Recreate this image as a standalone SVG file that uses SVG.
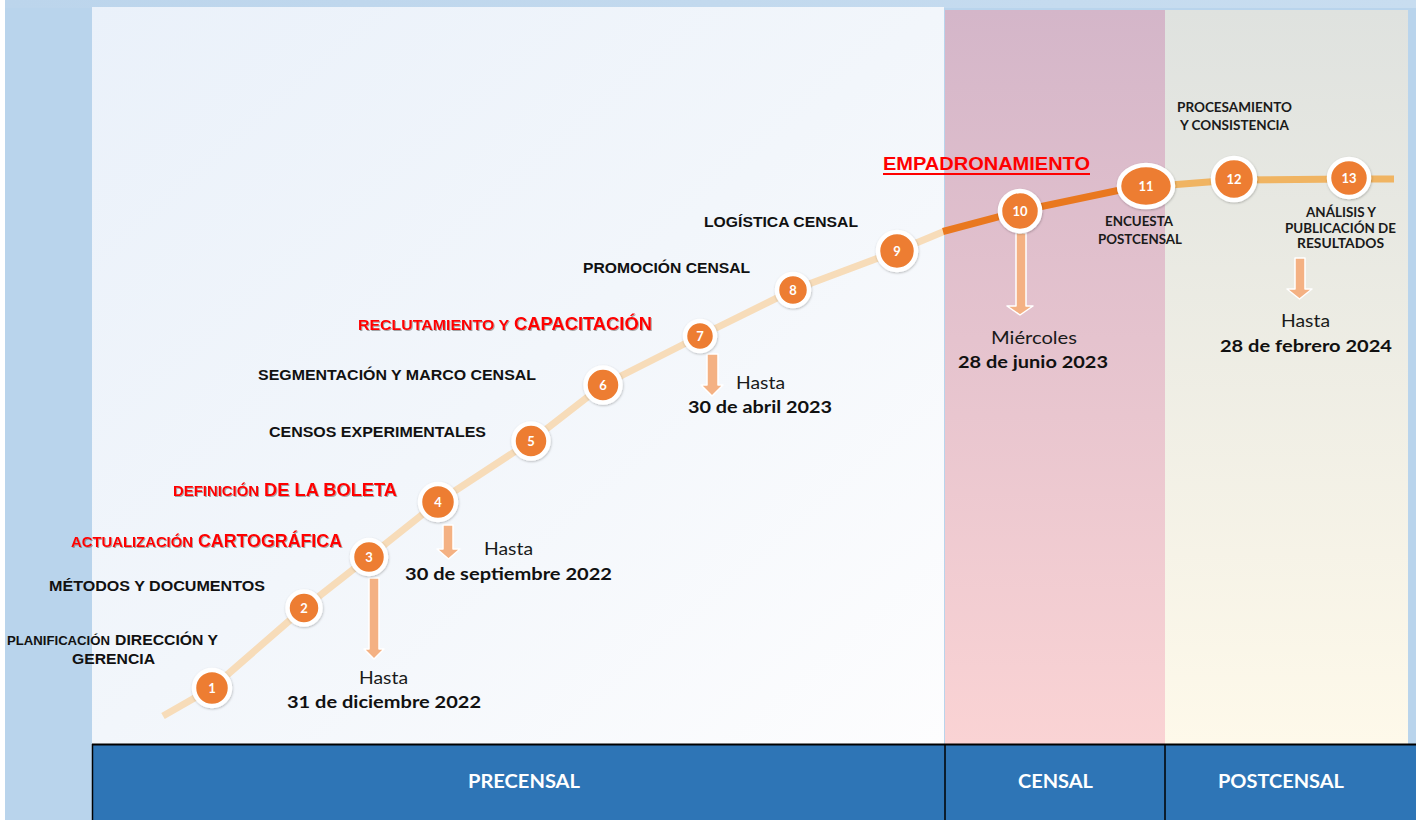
<svg xmlns="http://www.w3.org/2000/svg" width="1416" height="820" viewBox="0 0 1416 820">
<defs>
<linearGradient id="gPre" x1="0" y1="0" x2="1" y2="1">
<stop offset="0" stop-color="#eaf1fa"/><stop offset="0.5" stop-color="#f2f6fb"/><stop offset="1" stop-color="#fdfdfe"/>
</linearGradient>
<linearGradient id="gCen" x1="0" y1="0" x2="0" y2="1">
<stop offset="0" stop-color="#d4b6c9"/><stop offset="1" stop-color="#fad3d4"/>
</linearGradient>
<linearGradient id="gPost" x1="0" y1="0" x2="0" y2="1">
<stop offset="0" stop-color="#dfe2df"/><stop offset="1" stop-color="#fef9ea"/>
</linearGradient>
<linearGradient id="gTop" x1="0" y1="0" x2="1" y2="0">
<stop offset="0" stop-color="#bcd5ec"/><stop offset="1" stop-color="#c8ddf0"/>
</linearGradient>
<filter id="sh" x="-30%" y="-30%" width="160%" height="160%">
<feDropShadow dx="0.5" dy="1" stdDeviation="1.2" flood-color="#000" flood-opacity="0.25"/>
</filter>
<filter id="tsh" x="-5%" y="-30%" width="110%" height="160%">
<feDropShadow dx="1" dy="1" stdDeviation="0.6" flood-color="#555" flood-opacity="0.5"/>
</filter>
</defs>
<style>
.red{font-family:"Liberation Sans",Arial,sans-serif;font-weight:bold;fill:#ff0000;filter:url(#tsh)}
.blk{font-family:"Liberation Sans",Arial,sans-serif;font-weight:bold;fill:#111;font-size:14.5px}
.cal{font-family:Lato,"Open Sans",sans-serif;font-weight:bold;fill:#1a1a1a;font-size:12.5px}
.date{font-family:Lato,"Open Sans",sans-serif;fill:#1a1a1a;font-size:17px}
.dateb{font-family:Lato,"Open Sans",sans-serif;font-weight:bold;fill:#111;font-size:17.5px}
.bar{font-family:Lato,"Open Sans",sans-serif;font-weight:bold;fill:#fff;font-size:19px}
.num{font-family:Lato,"Open Sans",sans-serif;font-weight:bold;fill:#fff;font-size:13px;text-anchor:middle}
.dot{fill:#ed7d31;stroke:#fff;stroke-width:4.5;filter:url(#sh)}
.arr{fill:#f4b183;stroke:#fff;stroke-width:1.5}
</style>

<!-- background -->
<rect x="0" y="0" width="1416" height="820" fill="#fff"/>
<rect x="5" y="0" width="1411" height="820" fill="#b9d4ec"/>
<rect x="5" y="0" width="1411" height="8" fill="url(#gTop)"/>
<rect x="92" y="7" width="852" height="737" fill="url(#gPre)"/>
<rect x="945" y="10" width="220" height="734" fill="url(#gCen)"/>
<rect x="1165" y="10" width="243" height="734" fill="url(#gPost)"/>

<!-- bottom bar -->
<g id="phase-bar">
<rect x="92" y="745" width="1324" height="75" fill="#2e75b6"/>
<line x1="92" y1="744.5" x2="1416" y2="744.5" stroke="#000" stroke-width="2"/>
<line x1="92.5" y1="744" x2="92.5" y2="820" stroke="#000" stroke-width="1.5"/>
<line x1="945" y1="744" x2="945" y2="820" stroke="#000" stroke-width="1.5"/>
<line x1="1165" y1="744" x2="1165" y2="820" stroke="#000" stroke-width="1.5"/>
<text class="bar" x="468" y="788" textLength="112" lengthAdjust="spacingAndGlyphs">PRECENSAL</text>
<text class="bar" x="1018" y="788" textLength="75" lengthAdjust="spacingAndGlyphs">CENSAL</text>
<text class="bar" x="1218" y="788" textLength="126" lengthAdjust="spacingAndGlyphs">POSTCENSAL</text>
</g>

<!-- connectors -->
<g id="connectors" fill="none" stroke-linecap="butt" stroke-linejoin="round" stroke-width="7">
<path d="M163,716 L212,688 L304,608 L369,557 L438,502 L531,441 L603,385 L700,336 L793,290 L897,251 L945,231" stroke="#f7dcb9"/>
<path d="M943,231.5 L1020,211 L1125,189" stroke="#e9781f"/>
<path d="M1170,185 L1234,180 L1349,179 L1394,179" stroke="#f0b462"/>
<path class="arr" d="M369,578 h10 v71 h5 l-10,10 l-10,-10 h5 z"/>
<path class="arr" d="M443,525 h10 v24 h7 l-11.5,10 l-11.5,-10 h6 z"/>
<path class="arr" d="M707,354 h11 v31 h5 l-11,11 l-11,-11 h6 z"/>
<path class="arr" d="M1016,233 h10 v73 h7 l-13,9 l-13,-9 h9 z"/>
<path class="arr" d="M1295,258 h10 v31 h7 l-12.5,10 l-12.5,-10 h8 z"/>
</g>

<!-- nodes -->
<g id="n1"><circle class="dot" cx="212" cy="688" r="18"/><text class="num" x="212" y="692.5">1</text>
<text class="blk" x="7" y="645" textLength="103" lengthAdjust="spacingAndGlyphs" style="font-size:13px">PLANIFICACIÓN</text>
<text class="blk" x="115" y="645" textLength="103" lengthAdjust="spacingAndGlyphs">DIRECCIÓN Y</text>
<text class="blk" x="72" y="664" textLength="83" lengthAdjust="spacingAndGlyphs">GERENCIA</text></g>
<g id="n2"><circle class="dot" cx="304" cy="608" r="16.5"/><text class="num" x="304" y="612.5">2</text>
<text class="blk" x="49" y="591" textLength="216" lengthAdjust="spacingAndGlyphs">MÉTODOS Y DOCUMENTOS</text></g>
<g id="n3"><circle class="dot" cx="369" cy="557" r="17"/><text class="num" x="369" y="561.5">3</text>
<text class="red" x="71" y="547" style="font-size:15px" textLength="122" lengthAdjust="spacingAndGlyphs">ACTUALIZACIÓN</text>
<text class="red" x="198" y="547" style="font-size:18px" textLength="144" lengthAdjust="spacingAndGlyphs">CARTOGRÁFICA</text>
<text class="date" x="359" y="684" textLength="49" lengthAdjust="spacingAndGlyphs">Hasta</text>
<text class="dateb" x="287" y="708" textLength="194" lengthAdjust="spacingAndGlyphs">31 de diciembre 2022</text></g>
<g id="n4"><circle class="dot" cx="438" cy="502" r="18"/><text class="num" x="438" y="506.5">4</text>
<text class="red" x="173" y="496" style="font-size:15px" textLength="86" lengthAdjust="spacingAndGlyphs">DEFINICIÓN</text>
<text class="red" x="264" y="496" style="font-size:18px" textLength="133" lengthAdjust="spacingAndGlyphs">DE LA BOLETA</text>
<text class="date" x="484" y="555" textLength="49" lengthAdjust="spacingAndGlyphs">Hasta</text>
<text class="dateb" x="405" y="580" textLength="207" lengthAdjust="spacingAndGlyphs">30 de septiembre 2022</text></g>
<g id="n5"><circle class="dot" cx="531" cy="441" r="17.5"/><text class="num" x="531" y="445.5">5</text>
<text class="blk" x="269" y="437" textLength="217" lengthAdjust="spacingAndGlyphs">CENSOS EXPERIMENTALES</text></g>
<g id="n6"><circle class="dot" cx="603" cy="385" r="17.5"/><text class="num" x="603" y="389.5">6</text>
<text class="blk" x="258" y="380" textLength="278" lengthAdjust="spacingAndGlyphs">SEGMENTACIÓN Y MARCO CENSAL</text></g>
<g id="n7"><circle class="dot" cx="700" cy="336" r="15"/><text class="num" x="700" y="340.5">7</text>
<text class="red" x="358" y="330" style="font-size:15px" textLength="151" lengthAdjust="spacingAndGlyphs">RECLUTAMIENTO Y</text>
<text class="red" x="514" y="330" style="font-size:18px" textLength="138" lengthAdjust="spacingAndGlyphs">CAPACITACIÓN</text>
<text class="date" x="736" y="389" textLength="49" lengthAdjust="spacingAndGlyphs">Hasta</text>
<text class="dateb" x="688" y="413" textLength="144" lengthAdjust="spacingAndGlyphs">30 de abril 2023</text></g>
<g id="n8"><circle class="dot" cx="793" cy="290" r="16"/><text class="num" x="793" y="294.5">8</text>
<text class="blk" x="583" y="273" textLength="167" lengthAdjust="spacingAndGlyphs">PROMOCIÓN CENSAL</text></g>
<g id="n9"><circle class="dot" cx="897" cy="251" r="19"/><text class="num" x="897" y="255.5">9</text>
<text class="blk" x="704" y="227" textLength="154" lengthAdjust="spacingAndGlyphs">LOGÍSTICA CENSAL</text></g>
<g id="n10"><circle class="dot" cx="1020" cy="211" r="20"/><text class="num" x="1020" y="215.5">10</text>
<text class="red" x="883" y="170" style="font-size:18px;filter:none" textLength="207" lengthAdjust="spacingAndGlyphs">EMPADRONAMIENTO</text>
<rect x="883" y="173" width="207" height="2" fill="#ff0000"/>
<text class="date" x="991" y="344" textLength="86" lengthAdjust="spacingAndGlyphs">Miércoles</text>
<text class="dateb" x="958" y="368" textLength="150" lengthAdjust="spacingAndGlyphs">28 de junio 2023</text></g>
<g id="n11"><ellipse class="dot" cx="1146" cy="186" rx="27" ry="21"/><text class="num" x="1146" y="190.5">11</text>
<text class="cal" x="1105" y="226" textLength="68" lengthAdjust="spacingAndGlyphs">ENCUESTA</text>
<text class="cal" x="1098" y="244" textLength="84" lengthAdjust="spacingAndGlyphs">POSTCENSAL</text></g>
<g id="n12"><circle class="dot" cx="1234" cy="179" r="21"/><text class="num" x="1234" y="183.5">12</text>
<text class="cal" x="1177" y="112" textLength="115" lengthAdjust="spacingAndGlyphs">PROCESAMIENTO</text>
<text class="cal" x="1180" y="130" textLength="109" lengthAdjust="spacingAndGlyphs">Y CONSISTENCIA</text></g>
<g id="n13"><ellipse class="dot" cx="1349" cy="178" rx="20" ry="19"/><text class="num" x="1349" y="182.5">13</text>
<text class="cal" x="1306" y="217" textLength="70" lengthAdjust="spacingAndGlyphs">ANÁLISIS Y</text>
<text class="cal" x="1285" y="233" textLength="111" lengthAdjust="spacingAndGlyphs">PUBLICACIÓN DE</text>
<text class="cal" x="1297" y="248" textLength="87" lengthAdjust="spacingAndGlyphs">RESULTADOS</text>
<text class="date" x="1281" y="327" textLength="49" lengthAdjust="spacingAndGlyphs">Hasta</text>
<text class="dateb" x="1220" y="352" textLength="172" lengthAdjust="spacingAndGlyphs">28 de febrero 2024</text></g>
</svg>
